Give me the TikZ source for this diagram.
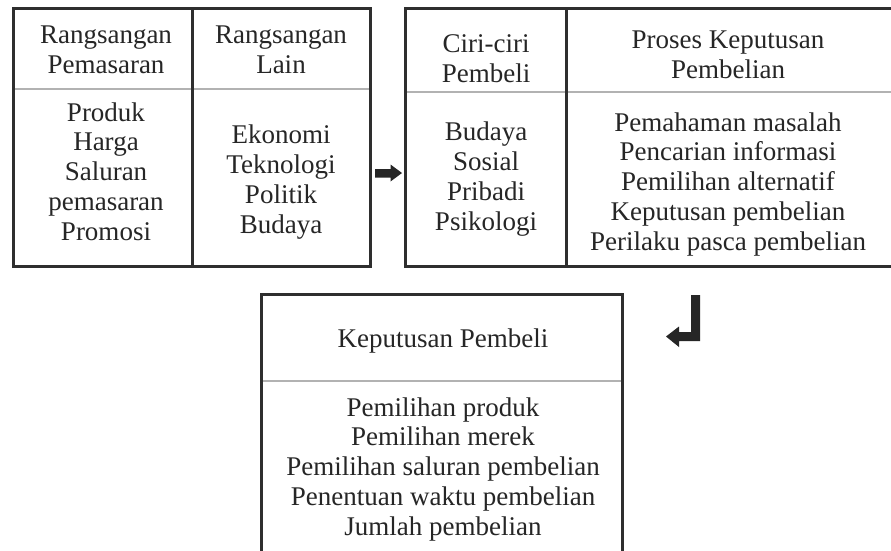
\documentclass[tikz,border=0pt]{standalone}
\usepackage{fontspec}
\setmainfont{Liberation Serif}
\begin{document}
\begin{tikzpicture}[x=1pt,y=-1pt,
  frame/.style={draw=black!82,line width=3pt},
  rule/.style={draw=black!30,line width=2pt},
  % multi-line nodes: the base anchor sits on the last line's baseline
  txt/.style={inner sep=0pt,anchor=base,align=center,text=black!85,
    font=\fontsize{27}{29.7}\selectfont},
  arrowfill/.style={fill=black!85,draw=none}]
\clip (0,0) rectangle (891,550);
\fill[white] (0,0) rectangle (891,550);

% --- Box 1: stimuli
\coordinate (b1nw) at (13.5,8.5);
\coordinate (b1se) at (370,266.5);
\draw[rule] (13.5,89) -- (370,89);
\draw[frame] (b1nw) rectangle (b1se);
\draw[frame] (192,8.5) -- (192,266.5);
\node[txt] (r1h) at (106,73.5) {Rangsangan\\Pemasaran};
\node[txt] (r1b) at (106,240) {Produk\\Harga\\Saluran\\pemasaran\\Promosi};
\node[txt] (r2h) at (281,73.5) {Rangsangan\\Lain};
\node[txt] (r2b) at (281,233) {Ekonomi\\Teknologi\\Politik\\Budaya};

% --- Box 2: buyer's black box
\coordinate (b2nw) at (405,8.5);
\coordinate (b2se) at (895,266.5);
\draw[rule] (405,92) -- (895,92);
\draw[frame] (b2nw) rectangle (b2se);
\draw[frame] (566,8.5) -- (566,266.5);
\node[txt] (c1h) at (486,82) {Ciri-ciri\\Pembeli};
\node[txt] (c1b) at (486,230) {Budaya\\Sosial\\Pribadi\\Psikologi};
\node[txt] (c2h) at (728,78) {Proses Keputusan\\Pembelian};
\node[txt] (c2b) at (728,250) {Pemahaman masalah\\Pencarian informasi\\Pemilihan alternatif\\Keputusan pembelian\\Perilaku pasca pembelian};

% --- Box 3: buyer's decisions
\coordinate (b3nw) at (261,294);
\coordinate (b3se) at (622,555);
\draw[rule] (261,381) -- (622,381);
\draw[frame] (b3nw) rectangle (b3se);
\node[txt] (k1h) at (443,347) {Keputusan Pembeli};
\node[txt] (k1b) at (443,535) {Pemilihan produk\\Pemilihan merek\\Pemilihan saluran pembelian\\Penentuan waktu pembelian\\Jumlah pembelian};

% --- Block arrows between boxes
\fill[arrowfill] (375,169) -- (390.5,169) -- (390.5,164.5) -- (402,173)
  -- (390.5,181.5) -- (390.5,177.5) -- (375,177.5) -- cycle;
\fill[arrowfill] (700,295) -- (700,341) -- (679,341) -- (679,347)
  -- (666,336.5) -- (679,326.5) -- (679,332) -- (691,332) -- (691,295) -- cycle;
\end{tikzpicture}
\end{document}
